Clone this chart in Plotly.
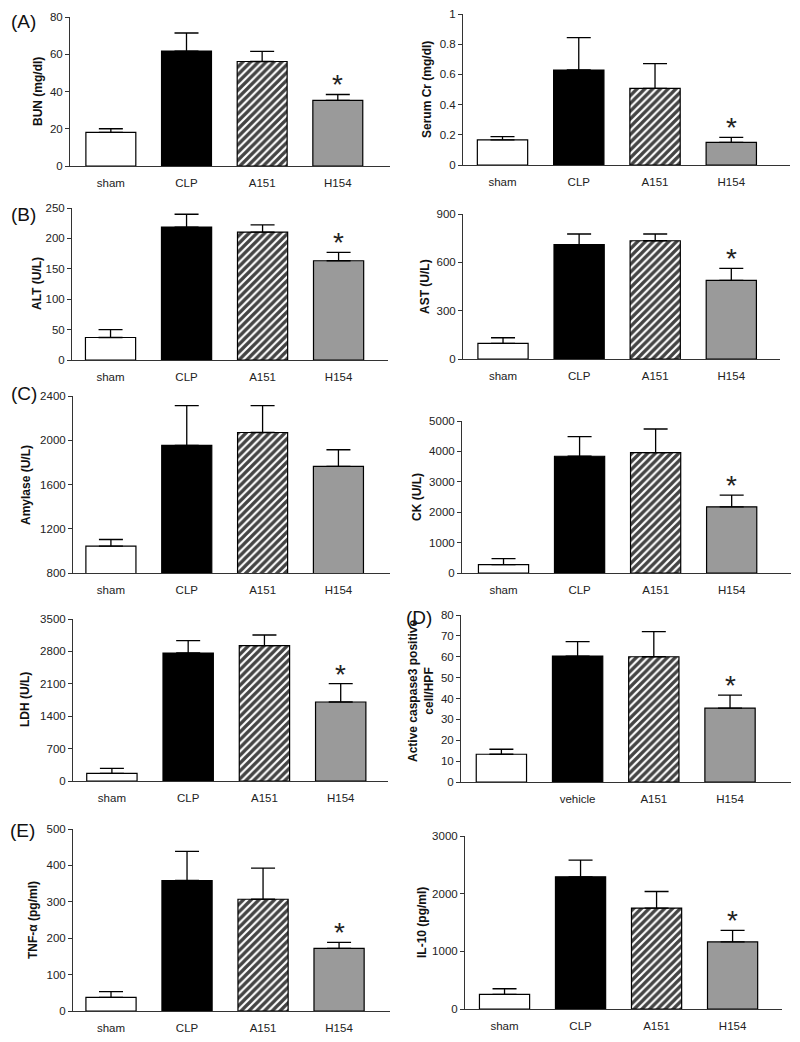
import plotly.graph_objects as go

# The page body has an 8px default margin on every side; size the figure so the
# page is exactly the 800x1042 window (no scrolling), figure origin at (8, 8).
OFF = 8
W, H = 800 - 2 * OFF, 1042 - 2 * OFF
FONT = "Liberation Sans, Arial, sans-serif"

categories = ["sham", "CLP", "A151", "H154"]
categories_d = ["", "vehicle", "A151", "H154"]

bun_mean = [18.0, 61.7, 56.1, 35.2]
bun_sem = [2.0, 9.7, 5.4, 3.2]
cr_mean = [0.166, 0.629, 0.508, 0.150]
cr_sem = [0.022, 0.214, 0.163, 0.033]
alt_mean = [37.0, 218.7, 210.4, 163.2]
alt_sem = [13.0, 21.0, 12.0, 13.7]
ast_mean = [97.0, 710.0, 734.0, 488.0]
ast_sem = [35.0, 66.0, 42.0, 75.0]
amy_mean = [1043.0, 1953.0, 2070.0, 1764.0]
amy_sem = [60.0, 360.0, 243.0, 150.0]
ck_mean = [274.0, 3840.0, 3961.0, 2177.0]
ck_sem = [196.0, 646.0, 776.0, 383.0]
ldh_mean = [166.0, 2765.0, 2924.0, 1707.0]
ldh_sem = [108.0, 267.0, 230.0, 396.0]
casp_mean = [13.3, 60.3, 60.0, 35.4]
casp_sem = [2.4, 6.9, 12.0, 6.2]
tnf_mean = [37.7, 358.5, 307.0, 171.9]
tnf_sem = [15.6, 80.0, 85.5, 16.5]
il10_mean = [253.0, 2292.0, 1750.0, 1163.0]
il10_sem = [98.0, 288.0, 288.0, 202.0]

sig_star = [False, False, False, True]
sig_none = [False, False, False, False]

# panel geometry (window pixels): y-axis x, x-axis end, top px, zero px, x range, y range, dtick
panels = [
    dict(mean=bun_mean, sem=bun_sem, sig=sig_star, labels=categories, title="BUN (mg/dl)",
         x0=70, x1=390, ytop=17, ybot=166, xr=[-0.54, 3.69], yr=[0, 80], dt=20, tx=38, ty=92,
         tag="(A)", tagx=9, tagy=22),
    dict(mean=cr_mean, sem=cr_sem, sig=sig_star, labels=categories, title="Serum Cr (mg/dl)",
         x0=463, x1=790, ytop=14, ybot=165, xr=[-0.518, 3.77], yr=[0, 1], dt=0.2, tx=427, ty=90),
    dict(mean=alt_mean, sem=alt_sem, sig=sig_star, labels=categories, title="ALT (U/L)",
         x0=72, x1=388, ytop=208, ybot=360, xr=[-0.507, 3.65], yr=[0, 250], dt=50, tx=37, ty=284,
         tag="(B)", tagx=9, tagy=215),
    dict(mean=ast_mean, sem=ast_sem, sig=sig_star, labels=categories, title="AST (U/L)",
         x0=463, x1=780, ytop=214, ybot=359, xr=[-0.526, 3.64], yr=[0, 900], dt=300, tx=425, ty=287),
    dict(mean=amy_mean, sem=amy_sem, sig=sig_none, labels=categories, title="Amylase (U/L)",
         x0=73, x1=390, ytop=396, ybot=573, xr=[-0.50, 3.68], yr=[800, 2400], dt=400, tx=26, ty=485,
         tag="(C)", tagx=9, tagy=393),
    dict(mean=ck_mean, sem=ck_sem, sig=sig_star, labels=categories, title="CK (U/L)",
         x0=462, x1=791, ytop=421, ybot=573, xr=[-0.546, 3.78], yr=[0, 5000], dt=1000, tx=417, ty=497),
    dict(mean=ldh_mean, sem=ldh_sem, sig=sig_star, labels=categories, title="LDH (U/L)",
         x0=73, x1=388, ytop=619, ybot=781, xr=[-0.51, 3.62], yr=[0, 3500], dt=700, tx=25, ty=700),
    dict(mean=casp_mean, sem=casp_sem, sig=sig_star, labels=categories_d,
         title="Active caspase3 positive<br>cell/HPF",
         x0=461, x1=791, ytop=615, ybot=782, xr=[-0.53, 3.80], yr=[0, 80], dt=10, tx=421, ty=691,
         tag="(D)", tagx=404, tagy=617),
    dict(mean=tnf_mean, sem=tnf_sem, sig=sig_star, labels=categories, title="TNF-\u03b1 (pg/ml)",
         x0=73, x1=390, ytop=829, ybot=1011, xr=[-0.5, 3.67], yr=[0, 500], dt=100, tx=33, ty=920,
         tag="(E)", tagx=8, tagy=830),
    dict(mean=il10_mean, sem=il10_sem, sig=sig_star, labels=categories, title="IL-10 (pg/ml)",
         x0=465, x1=782, ytop=836, ybot=1009, xr=[-0.52, 3.65], yr=[0, 3000], dt=1000, tx=422, ty=922),
]

bar_colors = ["white", "black", "white", "#9a9a9a"]
bar_patterns = ["", "", "/", ""]

fig = go.Figure()
annotations = []
layout = {}


def px_x(p):
    return (p - OFF) / W


def px_y(p):
    return 1 - (p - OFF) / H


for i, p in enumerate(panels):
    n = "" if i == 0 else str(i + 1)
    xa, ya = "x" + n, "y" + n
    xs = list(range(len(p["mean"])))
    fig.add_trace(go.Bar(
        x=xs, y=p["mean"], xaxis=xa, yaxis=ya, width=0.66,
        marker=dict(color=bar_colors, line=dict(color="black", width=1.2),
                    pattern=dict(shape=bar_patterns, fgcolor="black", fgopacity=1,
                                 size=5.5, solidity=0.6)),
        error_y=dict(type="data", symmetric=False, array=p["sem"], arrayminus=[0] * 4,
                     color="black", thickness=1.3, width=12),
        showlegend=False, hoverinfo="skip",
    ))
    layout["xaxis" + n] = dict(
        domain=[px_x(p["x0"]), px_x(p["x1"])], anchor=ya, range=p["xr"], automargin=False,
        tickvals=xs, ticktext=p["labels"], ticks="", showline=True, linecolor="#333",
        linewidth=1, showgrid=False, zeroline=False, fixedrange=True,
        tickfont=dict(family=FONT, size=11.5, color="#222"), ticklabelstandoff=6,
    )
    layout["yaxis" + n] = dict(
        domain=[px_y(p["ybot"]), px_y(p["ytop"])], anchor=xa, range=p["yr"], automargin=False,
        dtick=p["dt"], tick0=p["yr"][0], ticks="outside", ticklen=4, tickcolor="#333",
        showline=True, linecolor="#333", linewidth=1, showgrid=False, zeroline=False,
        tickfont=dict(family=FONT, size=11.5, color="#222"), fixedrange=True,
    )
    annotations.append(dict(
        text="<b>" + p["title"] + "</b>", textangle=-90, xref="paper", yref="paper",
        x=px_x(p["tx"]), y=px_y(p["ty"]), xanchor="center", yanchor="middle",
        showarrow=False, font=dict(family=FONT, size=12, color="#111"),
    ))
    if "tag" in p:
        annotations.append(dict(
            text=p["tag"], xref="paper", yref="paper", x=px_x(p["tagx"]), y=px_y(p["tagy"]),
            xanchor="left", yanchor="middle", showarrow=False,
            font=dict(family=FONT, size=19, color="#111"),
        ))
    for j, s in enumerate(p["sig"]):
        if s:
            annotations.append(dict(
                text="*", xref=xa, yref=ya, x=j, y=p["mean"][j] + p["sem"][j],
                xanchor="center", yanchor="bottom", yshift=-8, showarrow=False,
                font=dict(family=FONT, size=28, color="#222"),
            ))

fig.update_layout(
    width=W, height=H, margin=dict(l=0, r=0, t=0, b=0, pad=0, autoexpand=False),
    paper_bgcolor="white", plot_bgcolor="white",
    annotations=annotations, showlegend=False, bargap=0.3,
    **layout,
)

fig.write_html("out.html")
